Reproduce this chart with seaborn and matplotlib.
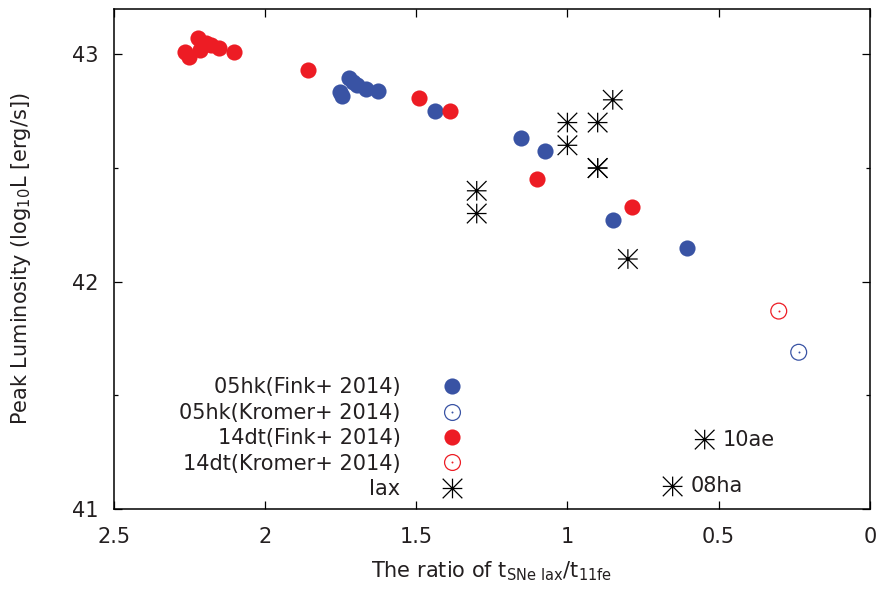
import numpy as np
import pandas as pd
import matplotlib
matplotlib.use("Agg")
import matplotlib.pyplot as plt
from matplotlib.path import Path
from matplotlib.lines import Line2D
from matplotlib.legend_handler import HandlerTuple
import seaborn as sns

# ---- data ----
fink05_x = [1.752, 1.745, 1.722, 1.709, 1.695, 1.666, 1.626, 1.437, 1.152, 1.073, 0.848, 0.606]
fink05_y = [42.834, 42.816, 42.895, 42.877, 42.864, 42.847, 42.838, 42.75, 42.63, 42.575, 42.27, 42.15]
kromer05_x = [0.235]
kromer05_y = [41.69]
fink14_x = [2.265, 2.252, 2.222, 2.215, 2.196, 2.179, 2.152, 2.103, 1.858, 1.49, 1.387, 1.099, 0.788]
fink14_y = [43.01, 42.99, 43.07, 43.02, 43.05, 43.04, 43.03, 43.01, 42.93, 42.81, 42.75, 42.45, 42.33]
kromer14_x = [0.301]
kromer14_y = [41.871]
iax_x = [1.3, 1.3, 1.0, 1.0, 0.9, 0.9, 0.9, 0.85, 0.8]
iax_y = [42.4, 42.3, 42.7, 42.6, 42.7, 42.5, 42.5, 42.8, 42.1]
named_x = [0.546, 0.652]
named_y = [41.306, 41.10]
named_labels = ["10ae", "08ha"]

labels = ["05hk(Fink+ 2014)", "05hk(Kromer+ 2014)", "14dt(Fink+ 2014)",
          "14dt(Kromer+ 2014)", "Iax"]

RED = "#ED1C24"
BLUE = "#3953A4"
INK = "#231F20"
FS = 15

sns.set_theme(style="white")
plt.rcParams["font.family"] = ["DejaVu Sans"]
plt.rcParams["mathtext.fontset"] = "dejavusans"
plt.rcParams["text.color"] = INK
plt.rcParams["axes.labelcolor"] = INK
plt.rcParams["xtick.color"] = INK
plt.rcParams["ytick.color"] = INK

fig = plt.figure(figsize=(8.83, 5.90), dpi=100)
ax = fig.add_axes([0.129, 0.137, 0.856, 0.848])

# star marker (+ and x combined, gnuplot style)
star = Path([(-1, 0), (1, 0), (0, -1), (0, 1), (-1, -1), (1, 1), (-1, 1), (1, -1)],
            [Path.MOVETO, Path.LINETO] * 4)

S_FILL = 135
S_OPEN = 130
S_STAR = 200

df_f05 = pd.DataFrame({"x": fink05_x, "y": fink05_y})
df_k05 = pd.DataFrame({"x": kromer05_x, "y": kromer05_y})
df_f14 = pd.DataFrame({"x": fink14_x, "y": fink14_y})
df_k14 = pd.DataFrame({"x": kromer14_x, "y": kromer14_y})
df_iax = pd.DataFrame({"x": iax_x, "y": iax_y})
df_nam = pd.DataFrame({"x": named_x, "y": named_y, "name": named_labels})

sns.scatterplot(data=df_f05, x="x", y="y", ax=ax, marker="o", s=S_FILL,
                color=BLUE, linewidth=0, legend=False, zorder=3)
sns.scatterplot(data=df_f14, x="x", y="y", ax=ax, marker="o", s=S_FILL,
                color=RED, linewidth=0, legend=False, zorder=3)
for d, c in [(df_k05, BLUE), (df_k14, RED)]:
    sns.scatterplot(data=d, x="x", y="y", ax=ax, marker="o", s=S_OPEN,
                    facecolor="none", edgecolor=c, linewidth=0.9, legend=False, zorder=3)
    sns.scatterplot(data=d, x="x", y="y", ax=ax, marker="o", s=2,
                    color=c, linewidth=0, legend=False, zorder=3)
for d in [df_iax, df_nam]:
    sns.scatterplot(data=d, x="x", y="y", ax=ax, marker=star, s=S_STAR,
                    facecolor="none", edgecolor="black", linewidth=0.9,
                    legend=False, zorder=3)
for _, r in df_nam.iterrows():
    ax.annotate(r["name"], (r["x"], r["y"]), xytext=(13, 0), textcoords="offset points",
                ha="left", va="center", fontsize=FS, color=INK)

ax.set_xlim(2.5, 0)
ax.set_ylim(41, 43.2)
ax.set_xticks([2.5, 2, 1.5, 1, 0.5, 0])
ax.set_xticklabels(["2.5", "2", "1.5", "1", "0.5", "0"])
ax.set_yticks([41, 42, 43])
ax.set_yticks([41.5, 42.5], minor=True)
ax.tick_params(which="both", direction="in", top=True, right=True, bottom=True, left=True,
               labelsize=FS, color="black", labelcolor=INK, width=0.9)
ax.tick_params(which="major", length=6)
ax.tick_params(axis="x", which="major", pad=13)
ax.tick_params(axis="y", which="major", pad=11)
ax.tick_params(which="minor", length=3)
for sp in ax.spines.values():
    sp.set_visible(True)
    sp.set_color("black")
    sp.set_linewidth(1.1)

ax.set_xlabel(r"The ratio of $\mathregular{t_{SNe\ Iax}/t_{11fe}}$", fontsize=FS, labelpad=9)
ax.set_ylabel(r"Peak Luminosity (log$_{10}$L [erg/s])", fontsize=FS, labelpad=28)

# legend proxies
ms = np.sqrt(S_FILL)
h1 = Line2D([], [], ls="none", marker="o", ms=ms, mfc=BLUE, mec="none")
h2 = (Line2D([], [], ls="none", marker="o", ms=np.sqrt(S_OPEN), mfc="none", mec=BLUE, mew=0.9),
      Line2D([], [], ls="none", marker="o", ms=1.4, mfc=BLUE, mec="none"))
h3 = Line2D([], [], ls="none", marker="o", ms=ms, mfc=RED, mec="none")
h4 = (Line2D([], [], ls="none", marker="o", ms=np.sqrt(S_OPEN), mfc="none", mec=RED, mew=0.9),
      Line2D([], [], ls="none", marker="o", ms=1.4, mfc=RED, mec="none"))
h5 = Line2D([], [], ls="none", marker=star, ms=np.sqrt(S_STAR), mfc="none", mec="black", mew=0.9)
ax.legend([h1, h2, h3, h4, h5], labels, loc="upper right", bbox_to_anchor=(0.488, 0.284),
          frameon=False, markerfirst=False, fontsize=FS, borderpad=0,
          labelspacing=0.26, handlelength=2.0, handletextpad=1.45,
          handler_map={tuple: HandlerTuple(ndivide=1)})

fig.savefig("out.png", dpi=100)
